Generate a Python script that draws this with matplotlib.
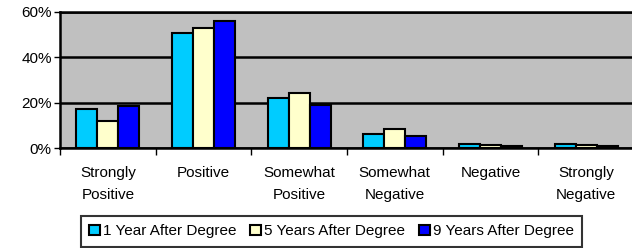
import numpy as np
import matplotlib.pyplot as plt
from matplotlib.ticker import FuncFormatter

plt.rcParams['font.family'] = ['Liberation Sans', 'DejaVu Sans']

categories = ["Strongly\nPositive", "Positive", "Somewhat\nPositive",
              "Somewhat\nNegative", "Negative", "Strongly\nNegative"]
series_names = ["1 Year After Degree", "5 Years After Degree", "9 Years After Degree"]
year1 = [17.1, 50.5, 22.2, 6.3, 2.0, 2.0]
year5 = [12.1, 52.7, 24.4, 8.5, 1.5, 1.2]
year9 = [18.7, 55.9, 19.1, 5.1, 0.9, 0.7]
colors = ["#00CCFF", "#FFFFCC", "#0000FF"]

fig = plt.figure(figsize=(6.32, 2.48), dpi=100)
ax = fig.add_axes([0.095, 0.403, 0.908, 0.549])
ax.set_facecolor("#C0C0C0")

x = np.arange(len(categories))
w = 0.22
for i, (vals, c, name) in enumerate(zip([year1, year5, year9], colors, series_names)):
    ax.bar(x + (i - 1) * w, vals, w, color=c, edgecolor="black", linewidth=1.5,
           label=name, zorder=3)

ax.set_ylim(0, 60)
ax.set_yticks([0, 20, 40, 60])
ax.yaxis.set_major_formatter(FuncFormatter(lambda v, p: f"{v:.0f}%"))
ax.grid(axis="y", color="black", linewidth=1.8, zorder=1)
ax.set_axisbelow(True)

ax.set_xlim(-0.5, len(categories) - 0.5)
ax.set_xticks(np.arange(len(categories) + 1) - 0.5)
ax.set_xticklabels([])
ax.set_xticks(x, minor=True)
ax.set_xticklabels(categories, minor=True, fontsize=11, linespacing=1.75)
ax.tick_params(axis="x", which="minor", length=0, pad=13)
ax.tick_params(axis="x", which="major", length=5, width=1, direction="out")
ax.tick_params(axis="y", labelsize=11, length=4, width=1, pad=2)

for s in ["top", "left", "bottom"]:
    ax.spines[s].set_linewidth(1.8)
ax.spines["right"].set_visible(False)

leg = fig.legend(loc="upper left", bbox_to_anchor=(81 / 632, 1 - 216 / 248),
                 ncol=3, fontsize=11, frameon=True, fancybox=False,
                 edgecolor="black", handlelength=0.7, handleheight=0.7,
                 handletextpad=0.2, columnspacing=0.9, borderpad=0.55,
                 borderaxespad=0)
leg.get_frame().set_linewidth(1.5)

fig.savefig("out.png", dpi=100)
